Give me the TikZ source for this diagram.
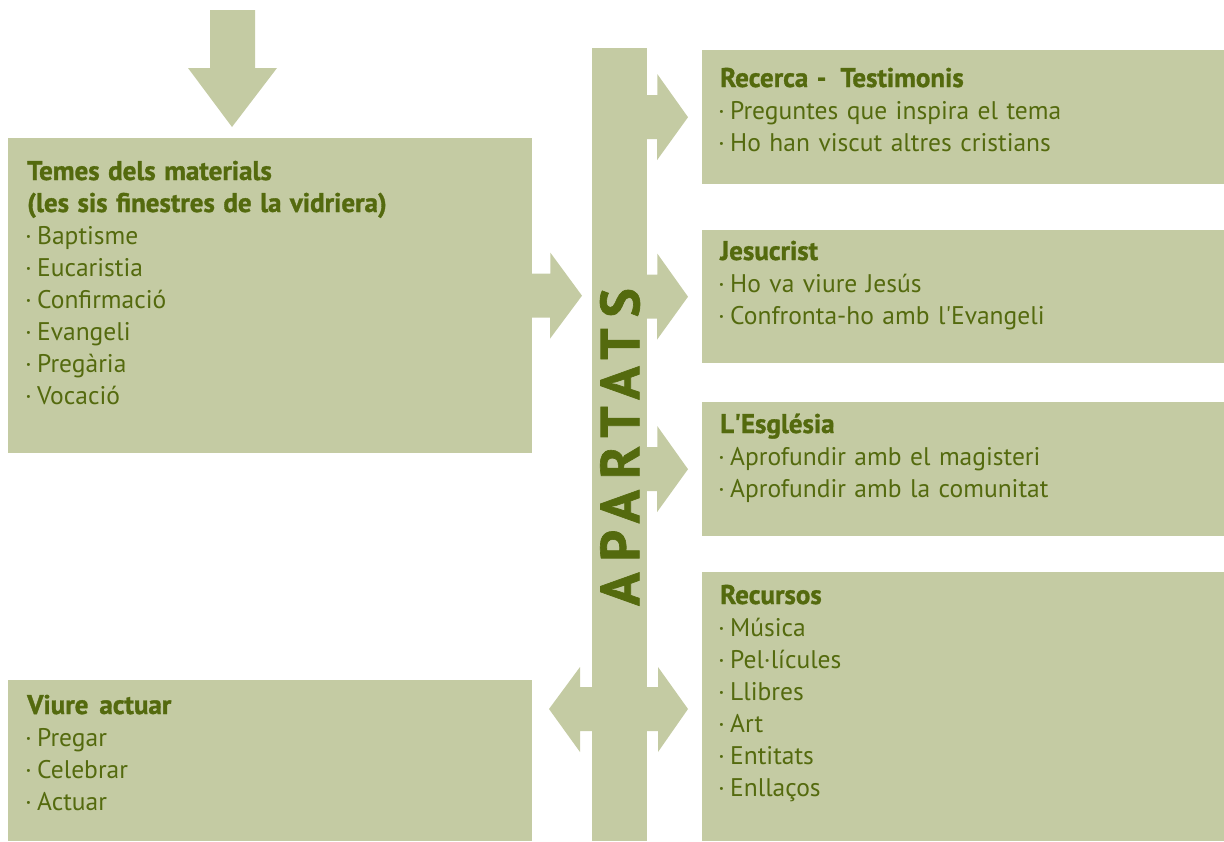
\documentclass[tikz,border=0pt]{standalone}
\usepackage{fontspec}
\setmainfont{PT Sans}[WordSpace=0.7]
\usetikzlibrary{calc}

\definecolor{pale}{RGB}{196,203,163}
\definecolor{leaf}{RGB}{84,106,14}

\tikzset{
  box/.style={fill=pale, inner sep=0pt, anchor=north west},
  txt/.style={anchor=base west, text width=490pt, align=left, inner sep=0pt,
    text=leaf, font=\fontsize{25.5}{32}\selectfont},
}

% heading line in a box
\newcommand{\hd}[1]{{\bfseries\fontsize{27}{32}\selectfont\addfontfeature{FakeBold=1.2}#1}}
% bullet at the start of a line
\newcommand{\bul}{\makebox[10pt][l]{\hspace{-2pt}·}}

% block arrow from the bar to a box on the right
\newcommand{\rarrow}[1]{%
  \fill[pale] (bar.east |- #1.west) ++(-2,-22) -- ++(12,0) -- ++(0,-21)
    -- ($(#1.west)+(-14,0)$) -- ++(-31,43) -- ++(0,-21) -- ++(-12,0) -- cycle;}

\begin{document}
\begin{tikzpicture}[x=1pt,y=-1pt]
  \useasboundingbox (0,0) rectangle (1224,841);

  % boxes
  \node[box, minimum width=524pt, minimum height=315pt] (temes) at (8,138) {};
  \node[box, minimum width=524pt, minimum height=161pt] (viure) at (8,680) {};
  \node[box, minimum width=55pt, minimum height=793pt] (bar) at (592,48) {};
  \node[box, minimum width=522pt, minimum height=134pt] (rec) at (702,50) {};
  \node[box, minimum width=522pt, minimum height=133pt] (jes) at (702,230) {};
  \node[box, minimum width=522pt, minimum height=134pt] (esg) at (702,402) {};
  \node[box, minimum width=522pt, minimum height=269pt] (recu) at (702,572) {};

  % arrows
  \fill[pale] ($(temes.north west)+(224,-11)$) -- ++(-44,-59) -- ++(22,0) -- ++(0,-58)
    -- ++(45,0) -- ++(0,58) -- ++(22,0) -- cycle;
  \fill[pale] ($(temes.east)+(-2,-22)$) -- ++(20,0) -- ++(0,-21)
    -- ($(bar.west |- temes.east)+(-10,0)$) -- ++(-32,43) -- ++(0,-21) -- ++(-20,0) -- cycle;
  \rarrow{rec}
  \rarrow{jes}
  \rarrow{esg}
  \coordinate (dbl) at (620,709);
  \fill[pale] (dbl) ++(-71,0) -- ++(31,-42) -- ++(0,20) -- ++(78,0) -- ++(0,-20)
    -- ++(30,42) -- ++(-30,43) -- ++(0,-21) -- ++(-78,0) -- ++(0,21) -- cycle;

  % texts
  \node[rotate=90, text=leaf, inner sep=0pt,
    font=\bfseries\fontsize{55}{55}\selectfont\addfontfeature{LetterSpace=20,FakeBold=1.2}]
    (apartats) at (620,447) {APARTATS};

  \node[txt] (temestxt) at ($(temes.north west)+(19,42)$) {%
    \hd{Temes dels materials}\\
    \hd{(les sis finestres de la vidriera)}\\
    \bul Baptisme\\ \bul Eucaristia\\ \bul Confirmació\\ \bul Evangeli\\
    \bul Pregària\\ \bul Vocació};
  \node[txt] (viuretxt) at ($(viure.north west)+(19,34)$) {%
    \hd{Viure\hspace{11pt}actuar}\\ \bul Pregar\\ \bul Celebrar\\ \bul Actuar};
  \node[txt] (rectxt) at ($(rec.north west)+(18,37)$) {%
    \hd{Recerca -\hspace{14pt}Testimonis}\\ \bul Preguntes que inspira el tema\\
    \bul Ho han viscut altres cristians};
  \node[txt] (jestxt) at ($(jes.north west)+(18,30)$) {%
    \hd{Jesucrist}\\ \bul Ho va viure Jesús\\ \bul Confronta-ho amb l\textquotesingle Evangeli};
  \node[txt] (esgtxt) at ($(esg.north west)+(18,31)$) {%
    \hd{L\textquotesingle Església}\\ \bul Aprofundir amb el magisteri\\
    \bul Aprofundir amb la comunitat};
  \node[txt] (recutxt) at ($(recu.north west)+(18,32)$) {%
    \hd{Recursos}\\ \bul Música\\ \bul Pel·lícules\\ \bul Llibres\\ \bul Art\\
    \bul Entitats\\ \bul Enllaços};
\end{tikzpicture}
\end{document}
